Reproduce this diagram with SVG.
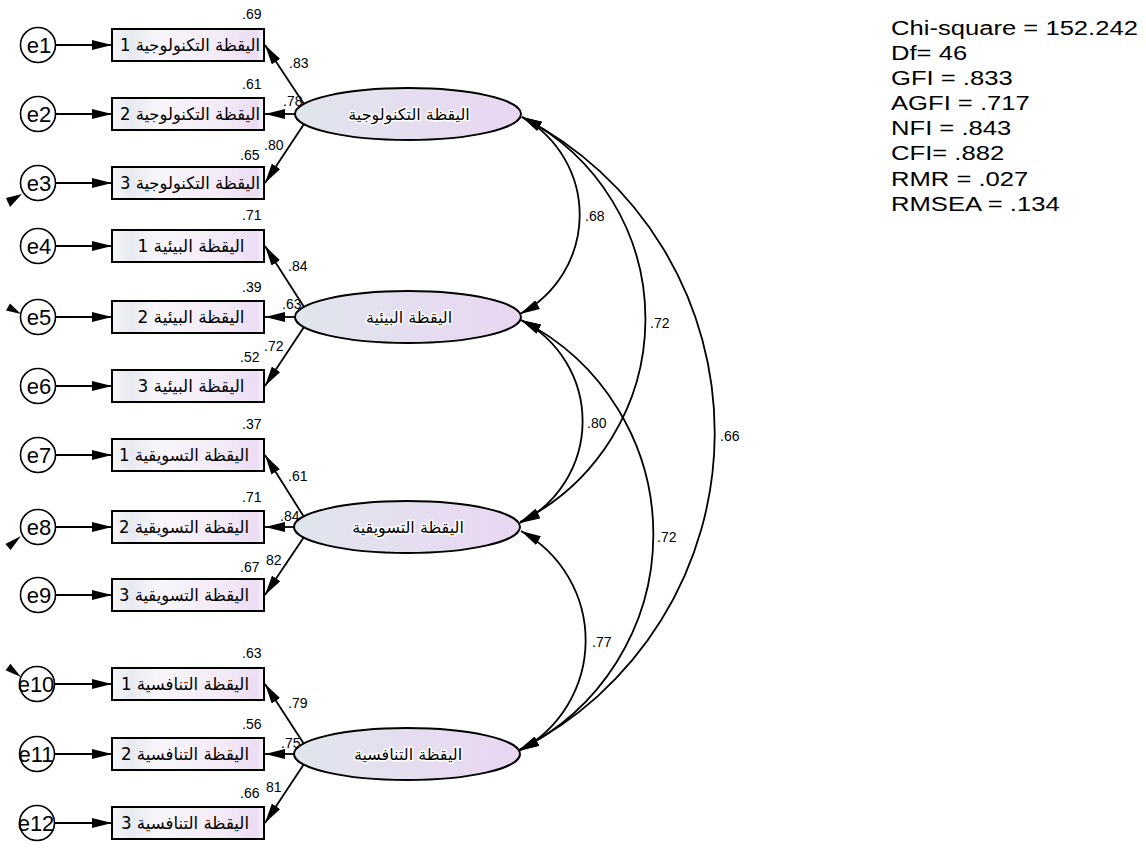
<svg xmlns="http://www.w3.org/2000/svg" width="1146" height="863" viewBox="0 0 1146 863">
<defs>
  <linearGradient id="ellG" x1="0" y1="0" x2="1" y2="0">
    <stop offset="0" stop-color="#dfe6ec"/>
    <stop offset="1" stop-color="#ead6f2"/>
  </linearGradient>
  <linearGradient id="boxG" x1="0" y1="0" x2="1" y2="0">
    <stop offset="0" stop-color="#f6f7f9"/>
    <stop offset="0.12" stop-color="#e6eaef"/>
    <stop offset="0.3" stop-color="#f8f6fa"/>
    <stop offset="0.75" stop-color="#f3e9f7"/>
    <stop offset="0.95" stop-color="#ecdcf3"/>
    <stop offset="1" stop-color="#f8f4fa"/>
  </linearGradient>
  <marker id="ah" viewBox="0 0 20 10" markerWidth="20" markerHeight="10" refX="20" refY="5" orient="auto-start-reverse" markerUnits="userSpaceOnUse">
    <path d="M0,0 L20,5 L0,10 z" fill="#000"/>
  </marker>
</defs>
<style>
  .box{fill:url(#boxG);stroke:#000;stroke-width:2}
  .lat{fill:url(#ellG);stroke:#000;stroke-width:2}
  .err{fill:#fff;stroke:#000;stroke-width:1.6}
  .ar{font-family:"DejaVu Sans","Noto Sans",sans-serif;font-size:17px;text-anchor:middle;fill:#000}
  .lt{font-family:"DejaVu Sans","Noto Sans",sans-serif;font-size:16px;text-anchor:middle;fill:#000;stroke:#fff;stroke-width:3;paint-order:stroke;stroke-linejoin:round}
  .et{font-family:"Liberation Sans",Arial,sans-serif;font-size:22px;text-anchor:middle;fill:#000}
  .num{font-family:"Liberation Sans",Arial,sans-serif;font-size:14px;fill:#000}
  .fit{font-family:"Liberation Sans",Arial,sans-serif;font-size:21px;fill:#000}
  .cn{stroke:#000;stroke-width:1.8;fill:none;marker-end:url(#ah)}
  .cv{stroke:#000;stroke-width:1.8;fill:none;marker-start:url(#ah);marker-end:url(#ah)}
</style>

<g id="connectors">
  <line class="cn" x1="56" y1="45" x2="112" y2="45"/>
  <line class="cn" x1="56" y1="114" x2="112" y2="114"/>
  <line class="cn" x1="56" y1="183" x2="112" y2="183"/>
  <line class="cn" x1="56" y1="246" x2="112" y2="246"/>
  <line class="cn" x1="56" y1="317" x2="112" y2="317"/>
  <line class="cn" x1="56" y1="386" x2="112" y2="386"/>
  <line class="cn" x1="56" y1="455" x2="112" y2="455"/>
  <line class="cn" x1="56" y1="527" x2="112" y2="527"/>
  <line class="cn" x1="56" y1="595" x2="112" y2="595"/>
  <line class="cn" x1="55" y1="684" x2="112" y2="684"/>
  <line class="cn" x1="55" y1="754" x2="112" y2="754"/>
  <line class="cn" x1="55" y1="823" x2="112" y2="823"/>
  <line class="cn" x1="304" y1="104" x2="265" y2="45"/>
  <line class="cn" x1="295" y1="114" x2="265" y2="114"/>
  <line class="cn" x1="304" y1="124" x2="265" y2="183"/>
  <line class="cn" x1="304" y1="307" x2="265" y2="246"/>
  <line class="cn" x1="295" y1="317" x2="265" y2="317"/>
  <line class="cn" x1="304" y1="327" x2="265" y2="386"/>
  <line class="cn" x1="304" y1="517" x2="265" y2="455"/>
  <line class="cn" x1="295" y1="527" x2="265" y2="527"/>
  <line class="cn" x1="304" y1="537" x2="265" y2="595"/>
  <line class="cn" x1="304" y1="744" x2="265" y2="684"/>
  <line class="cn" x1="295" y1="754" x2="265" y2="754"/>
  <line class="cn" x1="304" y1="764" x2="265" y2="823"/>
  <path class="cv" d="M522 117 A112 112 0 0 1 520 314"/>
  <path class="cv" d="M522 117 A227 227 0 0 1 520 522"/>
  <path class="cv" d="M522 117 A355 355 0 0 1 519 750"/>
  <path class="cv" d="M521 320 A114 114 0 0 1 520 523"/>
  <path class="cv" d="M521 320 A240 240 0 0 1 519 750"/>
  <path class="cv" d="M521 531 A125 125 0 0 1 519 751"/>
  <polygon points="22,194 6,198 10,207" fill="#000"/>
  <polygon points="21,314 10,303.5 6,310.5" fill="#000"/>
  <polygon points="21,536 5.4,544 10.6,550" fill="#000"/>
  <polygon points="21,677 10.4,663.8 5.6,670.2" fill="#000"/>
</g>

<g id="e1"><circle class="err" cx="38" cy="45" r="17.5"/><text class="et" x="39" y="53">e1</text></g>
<g id="e2"><circle class="err" cx="38" cy="114" r="17.5"/><text class="et" x="39" y="122">e2</text></g>
<g id="e3"><circle class="err" cx="38" cy="183" r="17.5"/><text class="et" x="39" y="191">e3</text></g>
<g id="e4"><circle class="err" cx="38" cy="246" r="17.5"/><text class="et" x="39" y="254">e4</text></g>
<g id="e5"><circle class="err" cx="38" cy="317" r="17.5"/><text class="et" x="39" y="325">e5</text></g>
<g id="e6"><circle class="err" cx="38" cy="386" r="17.5"/><text class="et" x="39" y="394">e6</text></g>
<g id="e7"><circle class="err" cx="38" cy="455" r="17.5"/><text class="et" x="39" y="463">e7</text></g>
<g id="e8"><circle class="err" cx="38" cy="527" r="17.5"/><text class="et" x="39" y="535">e8</text></g>
<g id="e9"><circle class="err" cx="38" cy="595" r="17.5"/><text class="et" x="39" y="603">e9</text></g>
<g id="e10"><circle class="err" cx="37" cy="684" r="17.5"/><text class="et" x="36" y="692">e10</text></g>
<g id="e11"><circle class="err" cx="37" cy="754" r="17.5"/><text class="et" x="36" y="762">e11</text></g>
<g id="e12"><circle class="err" cx="37" cy="823" r="17.5"/><text class="et" x="36" y="831">e12</text></g>

<g id="v1"><rect class="box" x="112" y="29" width="152" height="32"/><text class="ar" x="190" y="51" textLength="140" lengthAdjust="spacingAndGlyphs">اليقظة التكنولوجية 1</text></g>
<g id="v2"><rect class="box" x="112" y="98" width="152" height="32"/><text class="ar" x="190" y="120" textLength="140" lengthAdjust="spacingAndGlyphs">اليقظة التكنولوجية 2</text></g>
<g id="v3"><rect class="box" x="112" y="167" width="152" height="32"/><text class="ar" x="190" y="189" textLength="140" lengthAdjust="spacingAndGlyphs">اليقظة التكنولوجية 3</text></g>
<g id="v4"><rect class="box" x="112" y="230" width="152" height="32"/><text class="ar" x="191" y="252" textLength="107" lengthAdjust="spacingAndGlyphs">اليقظة البيئية 1</text></g>
<g id="v5"><rect class="box" x="112" y="301" width="152" height="32"/><text class="ar" x="191" y="323" textLength="107" lengthAdjust="spacingAndGlyphs">اليقظة البيئية 2</text></g>
<g id="v6"><rect class="box" x="112" y="370" width="152" height="32"/><text class="ar" x="191" y="392" textLength="107" lengthAdjust="spacingAndGlyphs">اليقظة البيئية 3</text></g>
<g id="v7"><rect class="box" x="112" y="439" width="152" height="32"/><text class="ar" x="184" y="461" textLength="130" lengthAdjust="spacingAndGlyphs">اليقظة التسويقية 1</text></g>
<g id="v8"><rect class="box" x="112" y="511" width="152" height="32"/><text class="ar" x="184" y="533" textLength="130" lengthAdjust="spacingAndGlyphs">اليقظة التسويقية 2</text></g>
<g id="v9"><rect class="box" x="112" y="579" width="152" height="32"/><text class="ar" x="184" y="601" textLength="130" lengthAdjust="spacingAndGlyphs">اليقظة التسويقية 3</text></g>
<g id="v10"><rect class="box" x="112" y="668" width="152" height="32"/><text class="ar" x="185" y="690" textLength="128" lengthAdjust="spacingAndGlyphs">اليقظة التنافسية 1</text></g>
<g id="v11"><rect class="box" x="112" y="738" width="152" height="32"/><text class="ar" x="185" y="760" textLength="128" lengthAdjust="spacingAndGlyphs">اليقظة التنافسية 2</text></g>
<g id="v12"><rect class="box" x="112" y="807" width="152" height="32"/><text class="ar" x="185" y="829" textLength="128" lengthAdjust="spacingAndGlyphs">اليقظة التنافسية 3</text></g>

<g id="F1"><ellipse class="lat" cx="408" cy="114" rx="113" ry="26"/><text class="lt" x="409" y="120">اليقظة التكنولوجية</text></g>
<g id="F2"><ellipse class="lat" cx="408" cy="317" rx="113" ry="26"/><text class="lt" x="409" y="323">اليقظة البيئية</text></g>
<g id="F3"><ellipse class="lat" cx="407" cy="527" rx="113" ry="26"/><text class="lt" x="408" y="533">اليقظة التسويقية</text></g>
<g id="F4"><ellipse class="lat" cx="407" cy="754" rx="113" ry="26"/><text class="lt" x="408" y="760">اليقظة التنافسية</text></g>

<g id="labels" class="num">
  <text x="242" y="19">.69</text>
  <text x="289" y="68">.83</text>
  <text x="242" y="89">.61</text>
  <text x="283" y="106">.78</text>
  <text x="264" y="150">.80</text>
  <text x="240" y="160">.65</text>

  <text x="242" y="220">.71</text>
  <text x="288" y="271">.84</text>
  <text x="242" y="292">.39</text>
  <text x="282" y="309">.63</text>
  <text x="264" y="351">.72</text>
  <text x="240" y="362">.52</text>

  <text x="242" y="429">.37</text>
  <text x="288" y="481">.61</text>
  <text x="242" y="502">.71</text>
  <text x="280" y="521">.84</text>
  <text x="266" y="565">82</text>
  <text x="240" y="572">.67</text>

  <text x="242" y="658">.63</text>
  <text x="288" y="708">.79</text>
  <text x="242" y="729">.56</text>
  <text x="281" y="748">.75</text>
  <text x="266" y="792">81</text>
  <text x="240" y="798">.66</text>

  <text x="585" y="221">.68</text>
  <text x="650" y="328">.72</text>
  <text x="720" y="441">.66</text>
  <text x="587" y="428">.80</text>
  <text x="657" y="542">.72</text>
  <text x="592" y="647">.77</text>
</g>

<g id="fit" transform="translate(891 0) scale(1.22 1)">
  <text class="fit" x="0" y="35">Chi-square = 152.242</text>
  <text class="fit" x="0" y="60">Df= 46</text>
  <text class="fit" x="0" y="85">GFI = .833</text>
  <text class="fit" x="0" y="110">AGFI = .717</text>
  <text class="fit" x="0" y="135">NFI = .843</text>
  <text class="fit" x="0" y="160">CFI= .882</text>
  <text class="fit" x="0" y="186">RMR = .027</text>
  <text class="fit" x="0" y="211">RMSEA = .134</text>
</g>
</svg>
